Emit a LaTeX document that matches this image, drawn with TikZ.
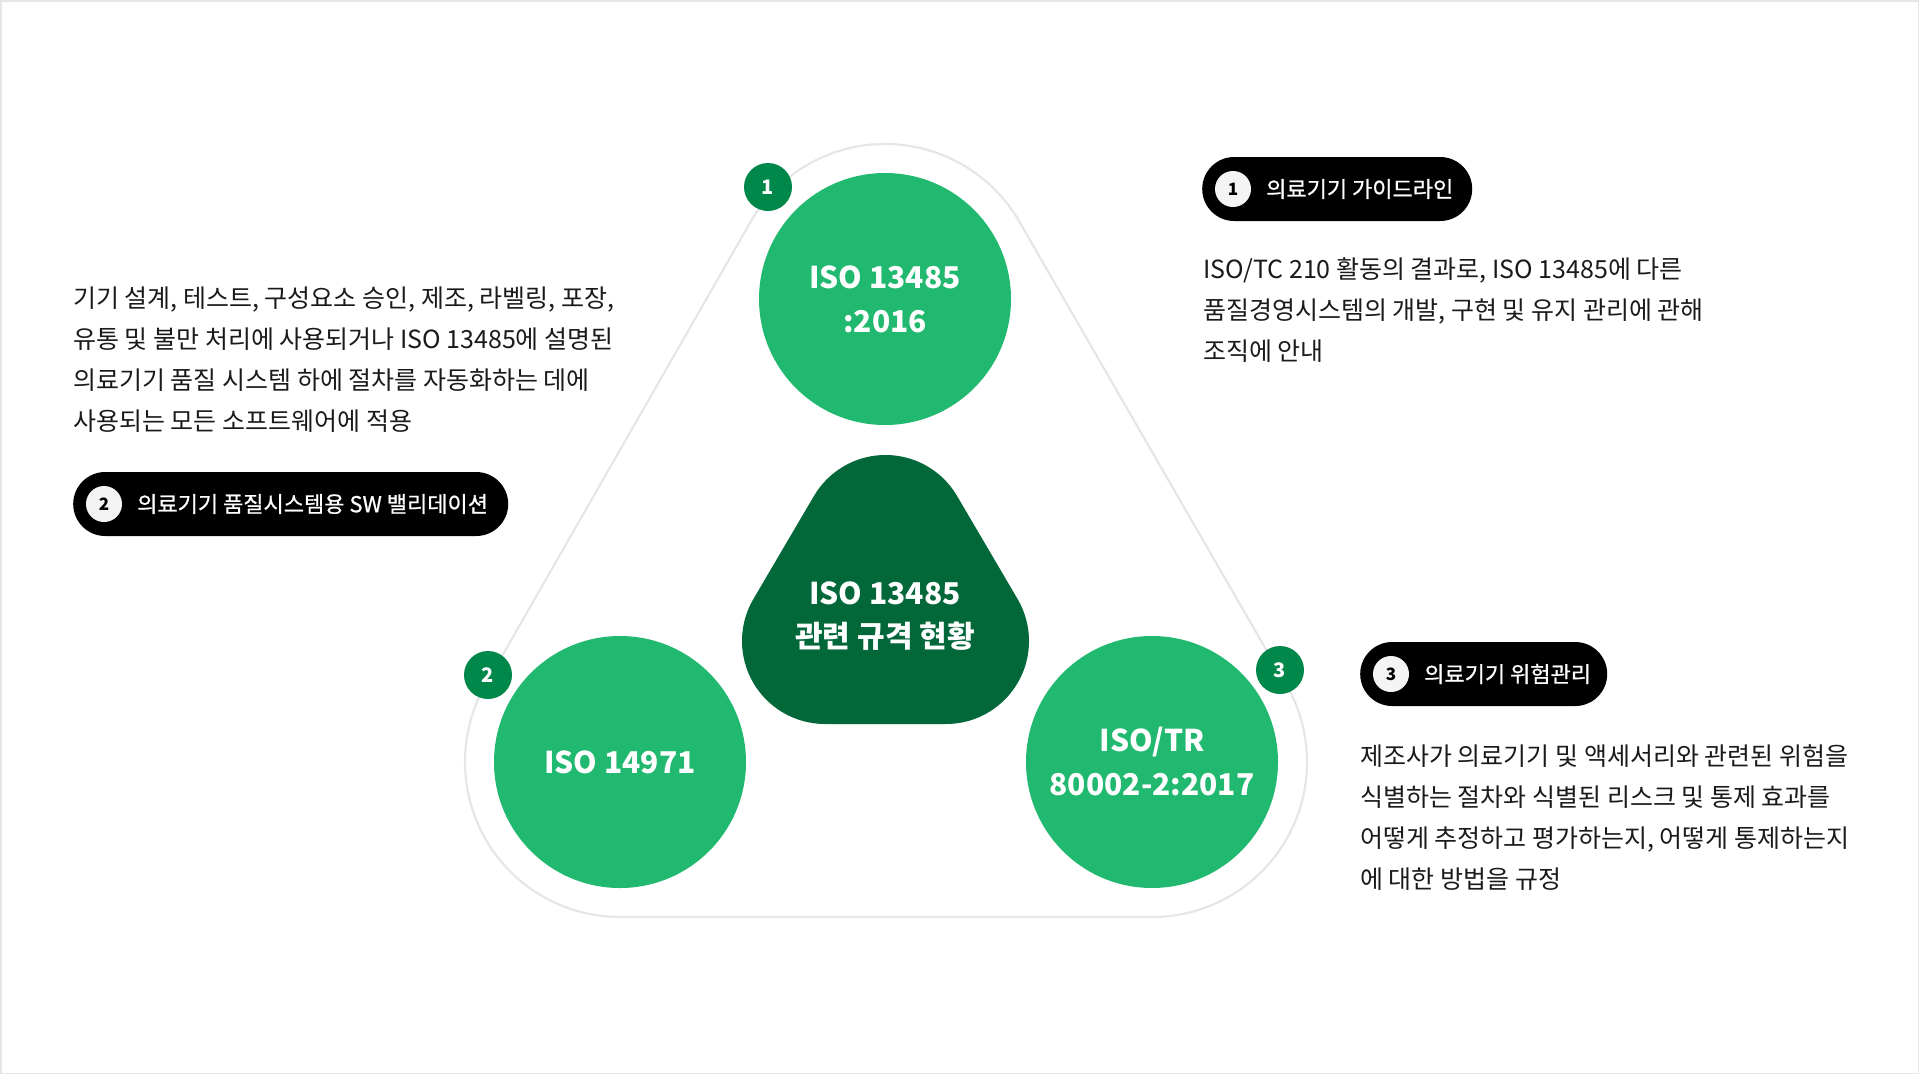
\documentclass[tikz,border=0pt]{standalone}
\usepackage{fontspec}
\setmainfont{Noto Sans CJK KR}
\newfontfamily\pillfont{Noto Sans CJK KR}[FakeBold=0.8]
\usepackage{tikz}
\usetikzlibrary{shapes.misc,positioning,calc}
\definecolor{isogreen}{HTML}{21B86F}
\definecolor{hubgreen}{HTML}{02683A}
\definecolor{badgegreen}{HTML}{00874A}
\definecolor{ringgray}{HTML}{E6E6E6}
\definecolor{bodytext}{HTML}{1A1A1A}
\definecolor{dotwhite}{HTML}{F4F4F4}

\begin{document}
\begin{tikzpicture}[x=1pt,y=1pt,
 stdcircle/.style={circle,fill=isogreen,minimum size=252pt,inner sep=0pt,align=center,text=white,font=\fontsize{30}{44}\selectfont\bfseries},
 badge/.style={circle,fill=badgegreen,minimum size=48pt,inner sep=0pt,text=white,font=\fontsize{20}{20}\selectfont\bfseries},
 pill/.style={rounded rectangle,fill=black,minimum height=64pt,inner sep=0pt,anchor=west},
 pilldot/.style={circle,fill=dotwhite,minimum size=36pt,inner sep=0pt,font=\fontsize{17}{17}\selectfont\bfseries},
 pilltext/.style={anchor=west,inner sep=0pt,text=white,font=\fontsize{22}{22}\pillfont},
 desc/.style={anchor=north west,inner sep=0pt,align=left,text=bodytext,font=\fontsize{25}{41}\selectfont},
 ring/.style={draw=ringgray,line width=2.2pt}]
\useasboundingbox (0,0) rectangle (1919,-1074);
\draw[ringgray,line width=1.5pt] (0.75,-0.75) rectangle (1918.25,-1073.25);
\node[stdcircle] (iso1) at (885,-299) {ISO 13485\\:2016};
\node[stdcircle] (iso2) at (620,-762) {ISO 14971};
\node[stdcircle] (iso3) at (1152,-762) {ISO/TR\\80002-2:2017};
\draw[ring] ($(iso1.center)+(30:155)$) arc[start angle=30,end angle=150,radius=155]
 -- ($(iso2.center)+(150:155)$) arc[start angle=150,end angle=270,radius=155]
 -- ($(iso3.center)+(270:155)$) arc[start angle=270,end angle=390,radius=155] -- cycle;
\coordinate (hubT) at (885.5,-538);\coordinate (hubL) at (825,-641);\coordinate (hubR) at (946,-641);
\fill[hubgreen] ($(hubT)+(30:83)$) arc[start angle=30,end angle=150,radius=83]
 -- ($(hubL)+(150:83)$) arc[start angle=150,end angle=270,radius=83]
 -- ($(hubR)+(270:83)$) arc[start angle=270,end angle=390,radius=83] -- cycle;
\node[align=center,text=white,font=\fontsize{30}{43}\selectfont\bfseries] (hub) at (885,-616) {ISO 13485\\관련 규격 현황};
\node[badge] (badge1) at (768,-187) {1};
\node[badge] (badge2) at (488,-675) {2};
\node[badge] (badge3) at (1280,-670) {3};
\node[pill,minimum width=270pt] (pill1) at (1202,-189) {};
\node[pilldot] (dot1) at ([xshift=31pt]pill1.west) {1};
\node[pilltext] (label1) at ([xshift=64pt]pill1.west) {의료기기 가이드라인};
\node[pill,minimum width=435pt] (pill2) at (73,-504) {};
\node[pilldot] (dot2) at ([xshift=31pt]pill2.west) {2};
\node[pilltext] (label2) at ([xshift=64pt]pill2.west) {의료기기 품질시스템용 SW 밸리데이션};
\node[pill,minimum width=247pt] (pill3) at (1360,-674) {};
\node[pilldot] (dot3) at ([xshift=31pt]pill3.west) {3};
\node[pilltext] (label3) at ([xshift=64pt]pill3.west) {의료기기 위험관리};
\node[desc] (desc1) at (1203,-257) {ISO/TC 210 활동의 결과로, ISO 13485에 다른\\품질경영시스템의 개발, 구현 및 유지 관리에 관해\\조직에 안내};
\node[desc] (desc2) at (73,-287) {기기 설계, 테스트, 구성요소 승인, 제조, 라벨링, 포장,\\유통 및 불만 처리에 사용되거나 ISO 13485에 설명된\\의료기기 품질 시스템 하에 절차를 자동화하는 데에\\사용되는 모든 소프트웨어에 적용};
\node[desc] (desc3) at (1360,-744) {제조사가 의료기기 및 액세서리와 관련된 위험을\\식별하는 절차와 식별된 리스크 및 통제 효과를\\어떻게 추정하고 평가하는지, 어떻게 통제하는지\\에 대한 방법을 규정};
\end{tikzpicture}
\end{document}
